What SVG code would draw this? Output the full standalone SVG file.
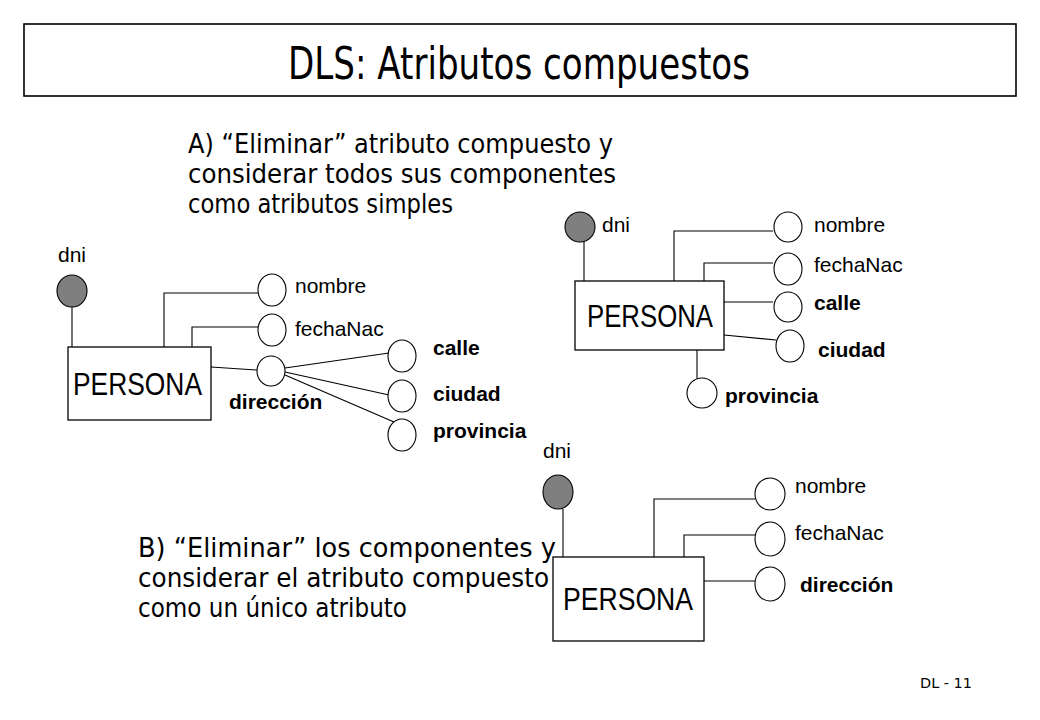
<svg xmlns="http://www.w3.org/2000/svg" width="1040" height="720" viewBox="0 0 1040 720">
<style>
.bg{fill:#ffffff}
.frame{fill:none;stroke:#000;stroke-width:1.6}
.ent{fill:#ffffff;stroke:#000;stroke-width:1.3}
.att{fill:#ffffff;stroke:#000;stroke-width:1.1}
.key{fill:#7f7f7f;stroke:#000;stroke-width:1.1}
.ln{fill:none;stroke:#000;stroke-width:1.1}
.lbl{font-family:"Liberation Sans",Arial,sans-serif;font-size:21px;fill:#000}
.bld{font-family:"Liberation Sans",Arial,sans-serif;font-size:21px;font-weight:bold;fill:#000}
.ename{font-family:"Liberation Sans",Arial,sans-serif;font-size:31px;fill:#000}
.title{font-family:"DejaVu Sans","Liberation Sans",sans-serif;font-size:44px;fill:#000}
.note{font-family:"DejaVu Sans","Liberation Sans",sans-serif;font-size:26px;fill:#000}
.foot{font-family:"DejaVu Sans","Liberation Sans",sans-serif;font-size:14px;fill:#000}
</style>
<rect class="bg" x="0" y="0" width="1040" height="720"/>
<g id="title">
<rect class="frame" x="24" y="24" width="992" height="72"/>
<text class="title" x="519" y="79" text-anchor="middle" textLength="462" lengthAdjust="spacingAndGlyphs">DLS: Atributos compuestos</text>
</g>
<g id="noteA">
<text class="note" x="188" y="153" textLength="425" lengthAdjust="spacingAndGlyphs">A) “Eliminar” atributo compuesto y</text>
<text class="note" x="188" y="183" textLength="428" lengthAdjust="spacingAndGlyphs">considerar todos sus componentes</text>
<text class="note" x="188" y="213" textLength="265" lengthAdjust="spacingAndGlyphs">como atributos simples</text>
</g>
<g id="noteB">
<text class="note" x="138" y="557" textLength="418" lengthAdjust="spacingAndGlyphs">B) “Eliminar” los componentes y</text>
<text class="note" x="138" y="587" textLength="411" lengthAdjust="spacingAndGlyphs">considerar el atributo compuesto</text>
<text class="note" x="138" y="617" textLength="269" lengthAdjust="spacingAndGlyphs">como un único atributo</text>
</g>
<text id="footer" class="foot" x="920" y="688" textLength="52" lengthAdjust="spacingAndGlyphs">DL - 11</text>

<g id="connectors">
<!-- left diagram -->
<polyline class="ln" points="72,307 72,347"/>
<polyline class="ln" points="164,347 164,293 258,293"/>
<polyline class="ln" points="192,347 192,327 258,327"/>
<polyline class="ln" points="211,367 257,370"/>
<polyline class="ln" points="285,368 389,353"/>
<polyline class="ln" points="285,372 389,395"/>
<polyline class="ln" points="285,375 394,422"/>
<!-- right diagram -->
<polyline class="ln" points="584,242 584,281"/>
<polyline class="ln" points="674,281 674,231 773,231"/>
<polyline class="ln" points="704,281 704,263 773,263"/>
<polyline class="ln" points="724,302 773,302"/>
<polyline class="ln" points="724,335 776,340"/>
<polyline class="ln" points="697,350 697,380"/>
<!-- bottom diagram -->
<polyline class="ln" points="563,509 563,557"/>
<polyline class="ln" points="654,557 654,499 755,499"/>
<polyline class="ln" points="684,557 684,535 755,535"/>
<polyline class="ln" points="704,581 755,581"/>
</g>

<g id="left-persona">
<rect class="ent" x="68" y="347" width="143" height="73"/>
<text class="ename" x="73" y="395" textLength="129" lengthAdjust="spacingAndGlyphs">PERSONA</text>
</g>
<g id="left-dni">
<ellipse class="key" cx="72" cy="291" rx="15" ry="16"/>
<text class="lbl" x="58" y="262">dni</text>
</g>
<g id="left-nombre">
<ellipse class="att" cx="272" cy="290" rx="14" ry="16"/>
<text class="lbl" x="295" y="293">nombre</text>
</g>
<g id="left-fechaNac">
<ellipse class="att" cx="272" cy="330" rx="14" ry="16"/>
<text class="lbl" x="295" y="336">fechaNac</text>
</g>
<g id="left-direccion">
<ellipse class="att" cx="271" cy="371" rx="14" ry="15"/>
<text class="bld" x="229" y="409">dirección</text>
</g>
<g id="left-calle">
<ellipse class="att" cx="402" cy="356" rx="14" ry="16"/>
<text class="bld" x="433" y="355">calle</text>
</g>
<g id="left-ciudad">
<ellipse class="att" cx="402" cy="396" rx="14" ry="16"/>
<text class="bld" x="433" y="401">ciudad</text>
</g>
<g id="left-provincia">
<ellipse class="att" cx="402" cy="435" rx="14" ry="16"/>
<text class="bld" x="433" y="438">provincia</text>
</g>

<g id="right-persona">
<rect class="ent" x="575" y="281" width="149" height="69"/>
<text class="ename" x="587" y="327" textLength="126" lengthAdjust="spacingAndGlyphs">PERSONA</text>
</g>
<g id="right-dni">
<ellipse class="key" cx="580" cy="227" rx="15" ry="15"/>
<text class="lbl" x="602" y="232">dni</text>
</g>
<g id="right-nombre">
<ellipse class="att" cx="788" cy="227" rx="14" ry="15"/>
<text class="lbl" x="814" y="232">nombre</text>
</g>
<g id="right-fechaNac">
<ellipse class="att" cx="788" cy="269" rx="14" ry="16"/>
<text class="lbl" x="814" y="272">fechaNac</text>
</g>
<g id="right-calle">
<ellipse class="att" cx="788" cy="307" rx="14" ry="15"/>
<text class="bld" x="814" y="310">calle</text>
</g>
<g id="right-ciudad">
<ellipse class="att" cx="790" cy="346" rx="14" ry="16"/>
<text class="bld" x="818" y="357">ciudad</text>
</g>
<g id="right-provincia">
<ellipse class="att" cx="702" cy="393" rx="15" ry="15"/>
<text class="bld" x="725" y="403">provincia</text>
</g>

<g id="bottom-persona">
<rect class="ent" x="553" y="557" width="151" height="84"/>
<text class="ename" x="563" y="610" textLength="130" lengthAdjust="spacingAndGlyphs">PERSONA</text>
</g>
<g id="bottom-dni">
<ellipse class="key" cx="558" cy="492" rx="15" ry="17"/>
<text class="lbl" x="543" y="458">dni</text>
</g>
<g id="bottom-nombre">
<ellipse class="att" cx="770" cy="494" rx="15" ry="16"/>
<text class="lbl" x="795" y="493">nombre</text>
</g>
<g id="bottom-fechaNac">
<ellipse class="att" cx="770" cy="539" rx="15" ry="17"/>
<text class="lbl" x="795" y="540">fechaNac</text>
</g>
<g id="bottom-direccion">
<ellipse class="att" cx="770" cy="584" rx="15" ry="17"/>
<text class="bld" x="800" y="592">dirección</text>
</g>
</svg>
